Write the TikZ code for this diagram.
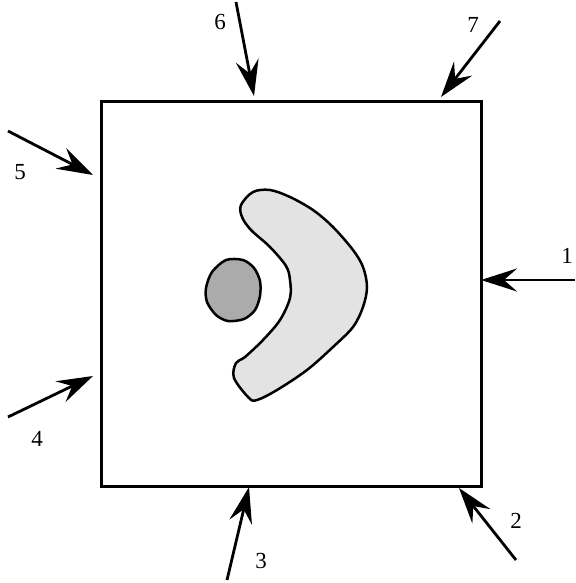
\documentclass[tikz,border=0pt]{standalone}
\usepackage{fontspec}
\setmainfont{Liberation Serif}
\usetikzlibrary{arrows.meta}
\begin{document}
\begin{tikzpicture}[x=1pt,y=-1pt,
  arr/.style={line width=2.8pt,-{Stealth[length=36pt,width=23pt,inset=13pt]}},
  lbl/.style={font=\fontsize{23}{25}\selectfont,inner sep=0pt},
  outline/.style={line width=2.5pt,line join=round}]
\useasboundingbox (0,0) rectangle (575,583);
\node[draw,line width=2.8pt,minimum width=380pt,minimum height=385pt,inner sep=0pt,anchor=north west] (box) at (100,100) {};
% arrow start and end points
\coordinate (s1) at (575,280); \coordinate (e1) at (481,280);
\coordinate (s2) at (516,560); \coordinate (e2) at (459,488);
\coordinate (s3) at (227,580); \coordinate (e3) at (249,487);
\coordinate (s4) at (8,417);   \coordinate (e4) at (93,376);
\coordinate (s5) at (8,131);   \coordinate (e5) at (93,175);
\coordinate (s6) at (236,2);   \coordinate (e6) at (254,96);
\coordinate (s7) at (500,21);  \coordinate (e7) at (441,97);
\foreach \i in {1,...,7} {\draw[arr] (s\i) -- (e\i);}
\node[lbl] (l1) at (567,256) {1};
\node[lbl] (l2) at (516,521) {2};
\node[lbl] (l3) at (261,561) {3};
\node[lbl] (l4) at (37,439) {4};
\node[lbl] (l5) at (20,172) {5};
\node[lbl] (l6) at (220,22) {6};
\node[lbl] (l7) at (473,25) {7};
% crescent
\draw[outline,fill=black!11] plot[smooth cycle,tension=0.55] coordinates {
 (241,205) (253,192) (270,190) (290,197) (313,210) (333,227) (353,250)
 (363,267) (367,287) (363,307) (353,327) (333,347) (307,370) (277,390)
 (257,400) (249,398) (234,378) (236,363) (245,357) (263,340) (280,320)
 (290,298) (290,280) (286,266) (270,247) (251,230) (242,217)};
% small blob
\draw[outline,fill=black!33] plot[smooth cycle,tension=0.5] coordinates {
 (226,260) (243,260) (254,268) (260,281) (260,296) (255,310) (244,319)
 (228,321) (216,315) (207,302) (206,288) (212,272)};
\end{tikzpicture}
\end{document}
